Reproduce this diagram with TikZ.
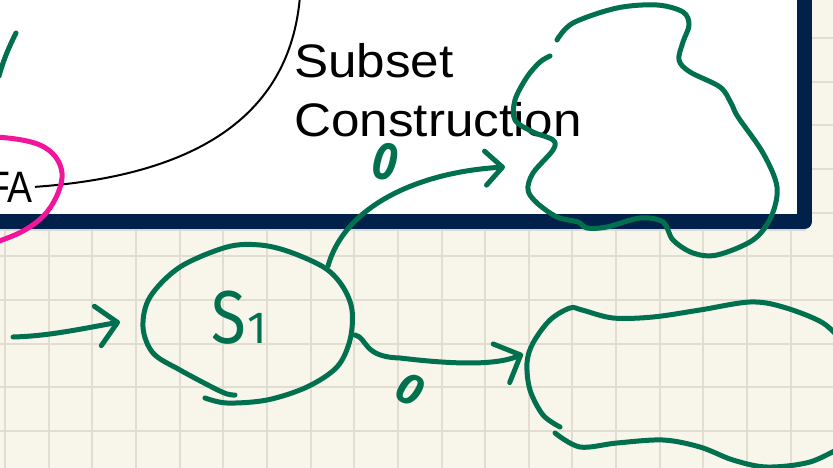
\documentclass[tikz,border=0pt]{standalone}
\usepackage{fontspec}
\setmainfont{Liberation Sans}
\newfontfamily\handfont{Fira Sans}
\usepackage{xcolor}
\usetikzlibrary{positioning}
\usetikzlibrary{arrows.meta}

\definecolor{paper}{HTML}{F8F6EA}
\definecolor{gridline}{HTML}{E1DED1}
\definecolor{boxnavy}{HTML}{01214A}
\definecolor{pengreen}{HTML}{00704F}
\definecolor{penpink}{HTML}{F2149B}

\tikzset{
  pen/.style={pengreen, line width=5pt, line cap=round, line join=round},
  pink pen/.style={penpink, line width=5pt, line cap=round},
  ink/.style={black, line width=2pt},
  grid line/.style={gridline, line width=2pt},
  barb/.style={-{Straight Barb[length=#1, width=2*#1, round]}},
  slide text/.style={inner sep=0pt, font=\fontsize{47}{56}\selectfont},
  hand/.style={pengreen, inner sep=0pt, font=\handfont},
}

\begin{document}
\begin{tikzpicture}[x=1pt, y=-1pt]

  \useasboundingbox (0,0) rectangle (833,468);
  \clip (0,0) rectangle (833,468);

  % Paper and grid
  \fill[paper] (0,0) rectangle (833,468);
  \foreach \i in {0,...,19}
    \draw[grid line] (5+43.65*\i,0) -- (5+43.65*\i,468);
  \foreach \j in {0,...,10}
    \draw[grid line] (0,38+43.65*\j) -- (833,38+43.65*\j);

  % Slide box
  \draw[gray!30, line width=1.2pt] (0,230) -- (806,230);
  \draw[boxnavy, line width=15pt, line join=round, fill=white]
    (-30,-30) rectangle (804.5,221.5);

  % Slide text
  \node[slide text, anchor=base east] (fa) at (33,202)
    {\scalebox{0.85}[1]{\fontsize{44}{44}\selectfont FA}};
  \node[slide text, anchor=base west] (subset) at (294,78) {\scalebox{1.09}[1]{Subset}};
  \node[slide text, anchor=base west] (construction)
    at ([yshift=-59pt]subset.base west) {\scalebox{1.09}[1]{Construction}};

  \draw[ink] ([xshift=2pt]fa.east) .. controls (190,176) and (290,120) .. (300,-4);

  % Pink loop round FA
  \draw[pink pen] plot[smooth cycle, tension=0.6] coordinates
    {(-20,137) (40,145) (62,173) (47,212) (10,237) (-40,245) (-85,200) (-70,150)};

  % Define nodes
  \node[hand, anchor=base] (s1) at (239,343)
    {\scalebox{0.85}[1]{\fontsize{75}{75}\selectfont S}\,{\fontsize{45}{45}\selectfont 1}};
  \node[hand, anchor=center, rotate=-8] (zero_up) at (385,162)
    {\scalebox{0.9}[1.1]{\fontsize{48}{48}\selectfont\bfseries\itshape 0}};
  \node[hand, anchor=center, rotate=-25] (zero_down) at (410,389)
    {\fontsize{44}{44}\selectfont\bfseries\itshape 0};

  \coordinate (init) at (13,337);
  \coordinate (s1_in) at (120,322);
  \coordinate (s1_up) at (328,266);
  \coordinate (s1_right) at (355,335);
  \coordinate (set_up_in) at (505,167);
  \coordinate (set_down_in) at (523,354);

  % State circle
  \draw[pen] plot[smooth, tension=0.55] coordinates
    {(235,395) (222,392) (180,370) (153,353) (143,327) (150,297) (180,267) (227,247)
     (260,245) (290,252) (325,268) (343,287) (352,310) (350,340) (337,367) (307,387)
     (267,400) (227,403) (205,398)};

  % Stroke at top left
  \draw[pen] (16,33) .. controls (10,45) and (4,58) .. (-1,76);

  % Target sets
  \draw[pen] plot[smooth, tension=0.55] coordinates
    {(557,40) (573,23) (617,8) (657,5) (683,12) (689,25) (683,42) (679,60) (690,72)
     (720,87) (731,103) (738,117) (763,153) (777,187) (771,217) (753,240) (717,255)
     (693,253) (673,240) (663,222) (640,218) (607,227) (587,228) (578,222) (557,217)
     (537,203) (528,190) (533,173) (553,150) (553,140) (533,132) (515,120) (515,100)
     (527,77) (540,62) (550,56)};
  \draw[pen] plot[smooth, tension=0.55] coordinates
    {(560,427) (543,415) (530,390) (527,363) (533,343) (550,320) (570,308) (582,310)
     (613,318) (653,317) (700,310) (750,302) (783,307) (823,323) (845,345)};
  \draw[pen] plot[smooth, tension=0.55] coordinates
    {(555,433) (580,447) (617,443) (663,440) (700,447) (733,460) (767,467) (810,462)
     (845,445)};

  % Connect nodes
  \draw[pen, barb=20pt] (init) .. controls +(35,-1) and +(-45,8) .. (s1_in);
  \draw[pen, barb=17pt] (s1_up) .. controls (345,205) and (420,172) .. (set_up_in);
  \draw[pen, barb=21pt] (s1_right) .. controls (368,338) and (362,357) .. (400,358)
    .. controls (450,364) and (495,366) .. (set_down_in);

\end{tikzpicture}
\end{document}
